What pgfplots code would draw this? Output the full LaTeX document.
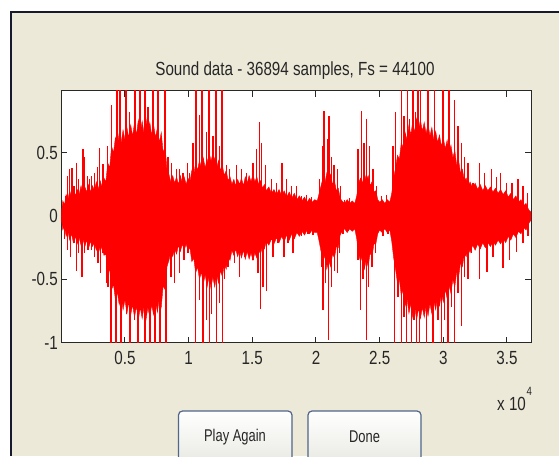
\documentclass[border=0pt]{standalone}
\usepackage{pgfplots}
\pgfplotsset{compat=1.18}
\usepackage{fontspec}
\setmainfont{Liberation Sans}
\usepackage{graphicx}
\definecolor{panel}{RGB}{236,233,216}
\definecolor{frame}{RGB}{22,26,44}
\definecolor{btnedge}{RGB}{80,102,138}
\definecolor{btnlow}{RGB}{232,232,226}
\definecolor{axisc}{RGB}{40,40,40}
\newcommand\nx[1]{\scalebox{0.8}[1]{#1}}
\begin{document}
\begin{tikzpicture}[x=1pt,y=1pt]
\useasboundingbox (0,0) rectangle (559,456);
\fill[white] (0,0) rectangle (559,456);
\fill[panel] (11,0) rectangle (559,444);
\draw[frame, line width=2.5pt] (11,0) -- (11,444) -- (559,444);

% title
\node[font=\fontsize{19}{19}\selectfont, text=black!85] at (295,385) {\nx{Sound data - 36894 samples, Fs = 44100}};

\begin{axis}[at={(61.3pt,113.3pt)}, anchor=south west, scale only axis,
  width=469.8pt, height=252pt,
  xmin=0, xmax=36894, ymin=-1, ymax=0.99,
  axis background/.style={fill=white},
  xtick={5000,10000,15000,20000,25000,30000,35000},
  xticklabels={\nx{0.5},\nx{1},\nx{1.5},\nx{2},\nx{2.5},\nx{3},\nx{3.5}},
  ytick={-1,-0.5,0,0.5},
  yticklabels={\nx{-1},\nx{-0.5},\nx{0},\nx{0.5}},
  scaled x ticks=false,
  tick align=inside, major tick length=6pt,
  axis line style={line width=1.2pt, axisc},
  every tick/.style={axisc, line width=1pt},
  tick label style={font=\fontsize{19}{19}\selectfont, text=black!85},
  xticklabel style={yshift=-5pt},
  clip=true]

% upper half of the dense part
\addplot[draw=red, fill=red, line width=0.4pt, mark=none] coordinates {
(0,0.02) (120,0.12) (250,0.09) (380,0.17) (520,0.13) (660,0.20) (800,0.15) (950,0.22)
(1100,0.16) (1250,0.21) (1400,0.17) (1550,0.24) (1700,0.18) (1850,0.23) (2000,0.19)
(2150,0.25) (2300,0.19) (2450,0.24) (2600,0.20) (2750,0.27) (2900,0.21) (3050,0.28)
(3200,0.23) (3350,0.30) (3500,0.27) (3650,0.42) (3800,0.38) (3950,0.55) (4100,0.50)
(4250,0.62) (4400,0.55) (4550,0.66) (4700,0.58) (4850,0.68) (5000,0.60) (5150,0.70)
(5300,0.62) (5450,0.72) (5600,0.63) (5750,0.74) (5900,0.64) (6050,0.76) (6200,0.66)
(6350,0.75) (6500,0.65) (6650,0.77) (6800,0.66) (6950,0.74) (7100,0.64) (7250,0.72)
(7400,0.62) (7550,0.70) (7700,0.58) (7850,0.66) (8000,0.50) (8150,0.55) (8300,0.36)
(8450,0.33) (8600,0.27) (8750,0.32) (8900,0.26) (9050,0.31) (9200,0.25) (9350,0.32)
(9500,0.26) (9650,0.31) (9800,0.25) (9950,0.30) (10100,0.27) (10250,0.36) (10400,0.32)
(10550,0.42) (10700,0.36) (10850,0.44) (11000,0.38) (11150,0.46) (11300,0.38)
(11450,0.45) (11600,0.39) (11750,0.47) (11900,0.40) (12050,0.46) (12200,0.38)
(12350,0.44) (12500,0.36) (12650,0.40) (12800,0.32) (12950,0.36) (13100,0.28)
(13250,0.31) (13400,0.25) (13550,0.29) (13700,0.24) (13850,0.29) (14000,0.25)
(14150,0.30) (14300,0.24) (14450,0.31) (14600,0.26) (14750,0.32) (14900,0.27)
(15050,0.33) (15200,0.27) (15350,0.31) (15500,0.25) (15650,0.28) (15800,0.22)
(15950,0.25) (16100,0.20) (16300,0.23) (16500,0.18) (16700,0.21) (16900,0.17)
(17100,0.21) (17300,0.16) (17500,0.20) (17700,0.15) (17900,0.19) (18100,0.14)
(18300,0.18) (18500,0.13) (18700,0.16) (18900,0.12) (19100,0.15) (19300,0.11)
(19500,0.14) (19700,0.11) (19900,0.13) (20100,0.12) (20250,0.18) (20400,0.24)
(20550,0.30) (20700,0.26) (20850,0.34) (21000,0.28) (21150,0.33) (21300,0.25)
(21450,0.28) (21600,0.20) (21750,0.22) (21900,0.14) (22050,0.12) (22250,0.10)
(22450,0.13) (22650,0.10) (22850,0.12) (23050,0.10) (23200,0.16) (23350,0.26)
(23500,0.30) (23650,0.26) (23800,0.34) (23950,0.28) (24100,0.32) (24250,0.24)
(24400,0.27) (24550,0.19) (24700,0.20) (24850,0.13) (25000,0.11) (25200,0.13)
(25400,0.10) (25600,0.13) (25800,0.11) (25950,0.18) (26100,0.30) (26250,0.38)
(26400,0.48) (26550,0.45) (26700,0.58) (26850,0.54) (27000,0.66) (27150,0.60)
(27300,0.72) (27450,0.64) (27600,0.75) (27750,0.66) (27900,0.77) (28050,0.68)
(28200,0.76) (28350,0.67) (28500,0.74) (28650,0.65) (28800,0.73) (28950,0.63)
(29100,0.70) (29250,0.60) (29400,0.67) (29550,0.58) (29700,0.64) (29850,0.55)
(30000,0.62) (30150,0.53) (30300,0.60) (30450,0.50) (30600,0.56) (30750,0.46)
(30900,0.52) (31050,0.40) (31200,0.44) (31350,0.34) (31500,0.37) (31650,0.28)
(31800,0.30) (31950,0.23) (32100,0.27) (32300,0.22) (32500,0.26) (32700,0.21)
(32900,0.25) (33100,0.20) (33300,0.24) (33500,0.20) (33700,0.23) (33900,0.19)
(34100,0.22) (34300,0.18) (34500,0.21) (34700,0.17) (34900,0.20) (35100,0.15)
(35300,0.18) (35500,0.13) (35700,0.16) (35900,0.11) (36100,0.13) (36300,0.08)
(36500,0.10) (36700,0.05) (36894,0.03) (36894,0) (0,0)
} -- cycle;

% lower half of the dense part
\addplot[draw=red, fill=red, line width=0.4pt, mark=none] coordinates {
(0,-0.02) (120,-0.11) (250,-0.08) (380,-0.16) (520,-0.12) (660,-0.19) (800,-0.14)
(950,-0.21) (1100,-0.16) (1250,-0.22) (1400,-0.17) (1550,-0.23) (1700,-0.18)
(1850,-0.24) (2000,-0.19) (2150,-0.25) (2300,-0.20) (2450,-0.24) (2600,-0.21)
(2750,-0.27) (2900,-0.22) (3050,-0.28) (3200,-0.24) (3350,-0.31) (3500,-0.30)
(3650,-0.45) (3800,-0.42) (3950,-0.58) (4100,-0.54) (4250,-0.66) (4400,-0.60)
(4550,-0.70) (4700,-0.63) (4850,-0.74) (5000,-0.66) (5150,-0.77) (5300,-0.68)
(5450,-0.78) (5600,-0.70) (5750,-0.80) (5900,-0.71) (6050,-0.82) (6200,-0.72)
(6350,-0.81) (6500,-0.71) (6650,-0.82) (6800,-0.72) (6950,-0.80) (7100,-0.70)
(7250,-0.78) (7400,-0.68) (7550,-0.76) (7700,-0.64) (7850,-0.72) (8000,-0.55)
(8150,-0.58) (8300,-0.40) (8450,-0.35) (8600,-0.28) (8750,-0.32) (8900,-0.26)
(9050,-0.30) (9200,-0.23) (9350,-0.28) (9500,-0.22) (9650,-0.27) (9800,-0.22)
(9950,-0.27) (10100,-0.25) (10250,-0.36) (10400,-0.33) (10550,-0.45) (10700,-0.40)
(10850,-0.50) (11000,-0.44) (11150,-0.54) (11300,-0.46) (11450,-0.56) (11600,-0.48)
(11750,-0.57) (11900,-0.48) (12050,-0.56) (12200,-0.46) (12350,-0.53) (12500,-0.43)
(12650,-0.48) (12800,-0.38) (12950,-0.42) (13100,-0.32) (13250,-0.35) (13400,-0.27)
(13550,-0.31) (13700,-0.26) (13850,-0.32) (14000,-0.27) (14150,-0.33) (14300,-0.27)
(14450,-0.34) (14600,-0.28) (14750,-0.34) (14900,-0.29) (15050,-0.35) (15200,-0.29)
(15350,-0.33) (15500,-0.27) (15650,-0.30) (15800,-0.23) (15950,-0.26) (16100,-0.20)
(16300,-0.23) (16500,-0.18) (16700,-0.22) (16900,-0.17) (17100,-0.21) (17300,-0.16)
(17500,-0.20) (17700,-0.15) (17900,-0.19) (18100,-0.14) (18300,-0.18) (18500,-0.13)
(18700,-0.16) (18900,-0.12) (19100,-0.15) (19300,-0.11) (19500,-0.14) (19700,-0.11)
(19900,-0.13) (20100,-0.13) (20250,-0.20) (20400,-0.28) (20550,-0.36) (20700,-0.31)
(20850,-0.42) (21000,-0.35) (21150,-0.40) (21300,-0.30) (21450,-0.33) (21600,-0.24)
(21750,-0.25) (21900,-0.15) (22050,-0.12) (22250,-0.10) (22450,-0.13) (22650,-0.10)
(22850,-0.12) (23050,-0.10) (23200,-0.18) (23350,-0.30) (23500,-0.36) (23650,-0.31)
(23800,-0.42) (23950,-0.34) (24100,-0.40) (24250,-0.29) (24400,-0.32) (24550,-0.22)
(24700,-0.22) (24850,-0.14) (25000,-0.11) (25200,-0.13) (25400,-0.10) (25600,-0.13)
(25800,-0.11) (25950,-0.20) (26100,-0.33) (26250,-0.42) (26400,-0.53) (26550,-0.50)
(26700,-0.63) (26850,-0.58) (27000,-0.71) (27150,-0.65) (27300,-0.77) (27450,-0.69)
(27600,-0.80) (27750,-0.71) (27900,-0.82) (28050,-0.73) (28200,-0.81) (28350,-0.72)
(28500,-0.80) (28650,-0.71) (28800,-0.79) (28950,-0.69) (29100,-0.77) (29250,-0.67)
(29400,-0.74) (29550,-0.64) (29700,-0.71) (29850,-0.61) (30000,-0.68) (30150,-0.58)
(30300,-0.65) (30450,-0.55) (30600,-0.61) (30750,-0.50) (30900,-0.56) (31050,-0.44)
(31200,-0.48) (31350,-0.37) (31500,-0.40) (31650,-0.30) (31800,-0.32) (31950,-0.25)
(32100,-0.29) (32300,-0.23) (32500,-0.27) (32700,-0.22) (32900,-0.26) (33100,-0.21)
(33300,-0.25) (33500,-0.21) (33700,-0.24) (33900,-0.20) (34100,-0.23) (34300,-0.19)
(34500,-0.22) (34700,-0.18) (34900,-0.21) (35100,-0.16) (35300,-0.19) (35500,-0.14)
(35700,-0.17) (35900,-0.12) (36100,-0.14) (36300,-0.09) (36500,-0.11) (36700,-0.06)
(36894,-0.03) (36894,0) (0,0)
} -- cycle;

% positive peaks
\addplot[red, ycomb, line width=1.3pt, mark=none] coordinates {
(317,0.16) (474,0.32) (657,0.37) (840,0.38) (997,0.24) (1180,0.42) (1364,0.29)
(1704,0.53) (1835,0.47) (2044,0.32) (2228,0.29) (2358,0.32) (2620,0.34)
(2830,0.39) (3013,0.54) (3275,0.41) (3615,0.55)
(3929,0.88) (4382,1) (4618,1) (5089,1) (5371,0.82) (5796,1) (6188,1)
(6416,0.61) (6581,1) (6809,0.86) (7210,1) (7602,1) (7853,0.63) (8152,1)
(8379,0.47) (8638,0.42) (9031,0.37) (9295,0.37) (9557,0.34) (9897,0.42)
(10083,0.34) (10342,0.58) (10578,1) (10867,0.80) (11049,1) (11387,0.66)
(11599,1) (11913,0.63) (12149,1) (12437,0.55) (12620,1) (12957,0.40)
(13224,0.37) (13743,0.40) (14135,0.37) (14528,0.34) (15054,0.42) (15313,0.53)
(15580,0.74) (15706,0.58) (16020,0.40) (16491,0.29) (16884,0.26) (17332,0.42)
(17669,0.29) (18062,0.24) (18455,0.24) (18847,0.16) (19240,0.17) (19633,0.15)
(20292,0.29) (20500,0.55) (20630,0.83) (20893,0.61) (21023,0.79) (21206,0.47)
(21415,0.40) (21675,0.37) (21942,0.24) (22255,0.13) (22648,0.14)
(23300,0.53) (23559,0.83) (23771,0.58) (23952,0.77) (24218,0.55) (24478,0.37)
(24737,0.24) (25130,0.16) (25522,0.17)
(26048,0.55) (26229,0.82) (26700,1) (26912,0.79) (27172,1) (27360,0.77)
(27619,1) (27800,0.82) (28012,1) (28224,1) (28538,0.63) (28797,1) (29056,0.50)
(29323,1) (29582,0.55) (29975,1) (30234,0.53) (30446,1) (30893,0.92)
(31153,0.71) (31415,0.58) (31682,0.47) (31937,0.42)
(32331,0.26) (32857,0.42) (33250,0.34) (33767,0.37) (34160,0.31) (34506,0.34)
(34946,0.26) (35393,0.26) (35864,0.29) (36257,0.24) (36595,0.18)
};

% negative peaks
\addplot[red, ycomb, line width=1.3pt, mark=none] coordinates {
(264,-0.18) (474,-0.27) (736,-0.32) (997,-0.21) (1180,-0.43) (1364,-0.29)
(1626,-0.48) (1835,-0.29) (2097,-0.27) (2358,-0.27) (2620,-0.32) (2882,-0.37)
(3065,-0.45) (3275,-0.29) (3536,-0.53)
(3667,-0.56) (3903,-1) (4296,-1) (4585,-0.66) (4688,-1) (5107,-0.77) (5395,-1)
(5762,-0.82) (6023,-1) (6337,-0.72) (6573,-1) (6966,-1) (7358,-1) (7751,-1)
(8222,-1) (8615,-0.48) (8905,-0.53) (9295,-0.45) (9635,-0.35) (9950,-0.29)
(10555,-1) (10868,-0.66) (11128,-1) (11387,-0.82) (11654,-1) (11780,-0.77)
(12172,-1) (12437,-0.69) (12643,-1) (12832,-0.50) (13091,-0.40)
(13617,-0.37) (14010,-0.48) (14402,-0.32) (15054,-0.35) (15447,-0.45)
(15628,-0.73) (15840,-0.56) (16099,-0.59) (16625,-0.32) (17018,-0.21)
(17489,-0.32) (17803,-0.21) (18196,-0.29) (18847,-0.16) (19374,-0.14)
(19766,-0.15) (20418,-0.40) (20551,-0.74) (20733,-0.53) (20998,-0.98)
(21206,-0.56) (21470,-0.43) (21675,-0.45) (21863,-0.29) (22122,-0.14)
(22514,-0.12) (23300,-0.35) (23512,-0.74) (23692,-0.50) (23952,-0.98)
(24140,-0.56) (24400,-0.40) (24658,-0.29) (25263,-0.16) (25656,-0.14)
(26181,-1) (26441,-0.64) (26700,-1) (26912,-0.80) (27093,-1) (27360,-0.69)
(27486,-1) (27698,-0.82) (27878,-1) (28145,-1) (28404,-0.70) (28663,-1)
(28929,-0.66) (29189,-1) (29582,-0.82) (29841,-1) (30109,-0.82) (30367,-1)
(30627,-0.72) (30893,-1) (31153,-0.61) (31415,-0.87) (31682,-0.48)
(31937,-0.50) (32198,-0.29) (32857,-0.50) (33430,-0.44) (33902,-0.32)
(34687,-0.41) (35212,-0.35) (35732,-0.28) (36257,-0.21) (36650,-0.16)
};
\end{axis}

% exponent of the x axis
\node[anchor=base west, inner sep=0, font=\fontsize{19}{19}\selectfont, text=black!85] at (497,46) {\nx{x 10}};
\node[anchor=base west, inner sep=0, font=\fontsize{12}{12}\selectfont, text=black!85] at (526.5,61) {\nx{4}};

% buttons
\draw[btnedge, line width=1.2pt, rounded corners=4pt, top color=white, bottom color=btnlow] (178.5,-10) rectangle (292,45);
\draw[btnedge, line width=1.2pt, rounded corners=4pt, top color=white, bottom color=btnlow] (308,-10) rectangle (421,45);
\node[font=\fontsize{17}{17}\selectfont, text=black!85] at (235,19) {\scalebox{0.76}[1]{Play Again}};
\node[font=\fontsize{17}{17}\selectfont, text=black!85] at (364.5,19) {\scalebox{0.76}[1]{Done}};
\end{tikzpicture}
\end{document}
